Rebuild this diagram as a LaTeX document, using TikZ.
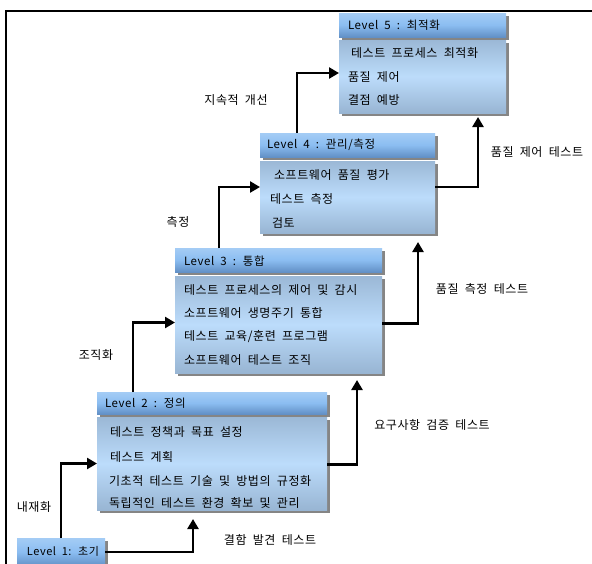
\documentclass[tikz,border=0pt]{standalone}
\usepackage{fontspec}
\setmainfont[LetterSpace=5,WordSpace=1.9]{Noto Sans CJK KR}
\usetikzlibrary{arrows.meta,shadows}
\definecolor{hdtop}{HTML}{A4CCF5}
\definecolor{hdmid}{HTML}{8BBDF1}
\definecolor{hdbot}{HTML}{6290C6}
\definecolor{bdtop}{HTML}{9BB8D6}
\definecolor{bdmid}{HTML}{BCDCFB}
\definecolor{bdbot}{HTML}{98B5D3}
\definecolor{shd}{HTML}{858585}
\begin{document}
\begin{tikzpicture}[x=1pt,y=-1pt,
  every node/.style={inner sep=0pt, outer sep=0pt, font=\fontsize{12}{14}\selectfont},
  boxshadow/.style={drop shadow={shadow xshift=3pt, shadow yshift=-3pt, fill=shd, opacity=1}},
  hdr/.style={anchor=north west, rectangle, boxshadow, top color=hdtop, bottom color=hdbot, middle color=hdmid},
  bdy/.style={anchor=north west, rectangle, boxshadow, top color=bdtop, bottom color=bdbot, middle color=bdmid},
  txt/.style={anchor=west},
  htxt/.style={anchor=west, font=\fontsize{11.5}{14}\selectfont},
  lbl/.style={anchor=center},
  conn/.style={line width=2.6pt, -{Triangle[length=10pt,width=11pt]}}
]
\useasboundingbox (0,0) rectangle (592,563);
\fill[white] (0,0) rectangle (592,563);
% frame
\draw[line width=1.8pt] (6,566) -- (6,11) -- (593,11);

% Level 5
\node[hdr, minimum width=167pt, minimum height=24pt] (L5h) at (339,13) {};
\node[bdy, minimum width=167pt, minimum height=73pt] (L5b) at (339,40) {};
\node[htxt] (t5h) at (348,25) {Level 5 : 최적화};
\node[txt] (t51) at (351,53) {테스트 프로세스 최적화};
\node[txt] (t52) at (348,77) {품질 제어};
\node[txt] (t53) at (348,100) {결점 예방};

% Level 4
\node[hdr, minimum width=175pt, minimum height=24pt] (L4h) at (260,133) {};
\node[bdy, minimum width=175pt, minimum height=72pt] (L4b) at (260,161) {};
\node[htxt] (t4h) at (267,145) {Level 4 : 관리/측정};
\node[txt] (t41) at (274,175) {소프트웨어 품질 평가};
\node[txt] (t42) at (270,199) {테스트 측정};
\node[txt] (t43) at (272,223) {검토};

% Level 3
\node[hdr, minimum width=207pt, minimum height=24pt] (L3h) at (175,248) {};
\node[bdy, minimum width=207pt, minimum height=97pt] (L3b) at (175,276) {};
\node[htxt] (t3h) at (184,261) {Level 3 : 통합};
\node[txt] (t31) at (184,290) {테스트 프로세스의 제어 및 감시};
\node[txt] (t32) at (184,313) {소프트웨어 생명주기 통합};
\node[txt] (t33) at (184,337) {테스트 교육/훈련 프로그램};
\node[txt] (t34) at (184,360) {소프트웨어 테스트 조직};

% Level 2
\node[hdr, minimum width=230pt, minimum height=22pt] (L2h) at (97,392) {};
\node[bdy, minimum width=230pt, minimum height=93pt] (L2b) at (97,417) {};
\node[htxt] (t2h) at (105,403) {Level 2 : 정의};
\node[txt] (t21) at (110,432) {테스트 정책과 목표 설정};
\node[txt] (t22) at (110,457) {테스트 계획};
\node[txt] (t23) at (109,481) {기초적 테스트 기술 및 방법의 규정화};
\node[txt] (t24) at (109,503) {독립적인 테스트 환경 확보 및 관리};

% Level 1
\node[hdr, minimum width=88pt, minimum height=28pt] (L1) at (17,538) {};
\node[txt, font=\fontsize{11}{13}\selectfont] (t1) at (27,551) {Level 1: 초기};

% connectors
\draw[conn] (L1.north) |- (L2b.west);
\draw[conn] (L1.east) -| ([xshift=96pt,yshift=-9pt]L2b.south west);
\draw[conn] ([xshift=36pt]L2h.north west) |- ([yshift=2pt]L3b.west);
\draw[conn] ([yshift=-1pt]L2b.east) -| ([xshift=182pt,yshift=-7pt]L3b.south west);
\draw[conn] ([xshift=44pt]L3h.north west) |- ([yshift=10pt]L4b.west);
\draw[conn] ([yshift=1pt]L3b.east) -| ([xshift=158pt,yshift=-9pt]L4b.south west);
\draw[conn] ([xshift=37pt]L4h.north west) |- ([yshift=3.5pt]L5b.west);
\draw[conn] ([yshift=10pt]L4b.east) -| ([xshift=139pt,yshift=-4pt]L5b.south west);

% labels
\node[lbl] (a1) at (34,507) {내재화};
\node[lbl] (a2) at (270,540) {결함 발견 테스트};
\node[lbl] (a3) at (432,425) {요구사항 검증 테스트};
\node[lbl] (a4) at (96,355) {조직화};
\node[lbl] (a5) at (482,289) {품질 측정 테스트};
\node[lbl] (a6) at (178,222) {측정};
\node[lbl] (a7) at (537,152) {품질 제어 테스트};
\node[lbl] (a8) at (236,100) {지속적 개선};
\end{tikzpicture}
\end{document}
